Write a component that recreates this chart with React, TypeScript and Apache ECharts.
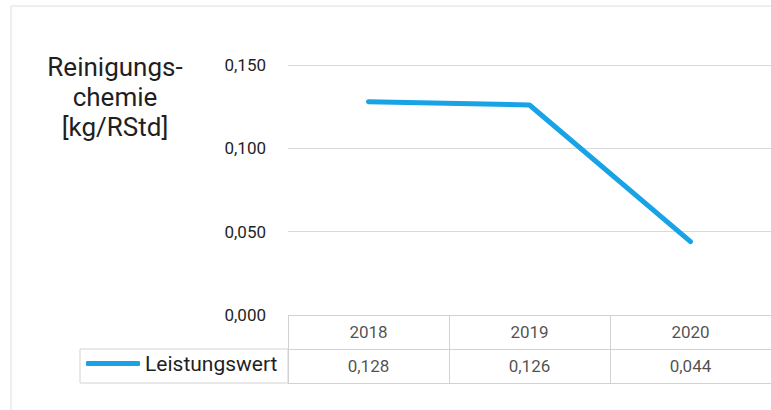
import React, { useEffect, useRef } from "react";
import * as echarts from "echarts";

const years = ["2018", "2019", "2020"];
const values = [0.128, 0.126, 0.044];
const seriesName = "Leistungswert";
const titleLines = ["Reinigungs-", "chemie", "[kg/RStd]"];
const tableRows = ["years", "values"];

const fmt = (v: number) => v.toFixed(3).replace(".", ",");
const FONT = "Roboto";
const LINE_COLOR = "#17a3e6";
const GRID_COLOR = "#d9d9d9";
const TABLE_COLOR = "#d2d2d2";
const TEXT_COLOR = "#1f1f1f";

export default function App() {
  const ref = useRef<HTMLDivElement>(null);
  useEffect(() => {
    if (!ref.current) return;
    const chart = echarts.init(ref.current, null, { renderer: "svg" });
    const tableData: any[] = [];
    years.forEach((y, i) => {
      tableData.push({ value: [y, "years"], text: y });
      tableData.push({ value: [y, "values"], text: fmt(values[i]) });
    });
    chart.setOption({
      animation: false,
      backgroundColor: "#ffffff",
      textStyle: { fontFamily: FONT },
      legend: {
        data: [{ name: seriesName, icon: "roundRect" }],
        left: 86,
        top: 353,
        padding: 0,
        itemWidth: 54,
        itemHeight: 5,
        textStyle: { fontSize: 21, color: TEXT_COLOR, fontFamily: FONT },
      },
      grid: [
        { left: 288, right: -5, top: 65, bottom: 95, containLabel: false },
        { left: 288, right: -5, top: 315, bottom: 27, containLabel: false },
      ],
      xAxis: [
        {
          type: "category",
          gridIndex: 0,
          data: years,
          boundaryGap: true,
          axisLine: { show: false },
          axisTick: { show: false },
          axisLabel: { show: false },
          splitLine: { show: false },
        },
        {
          type: "category",
          gridIndex: 1,
          data: years,
          boundaryGap: true,
          axisLine: { show: false },
          axisTick: { show: false },
          axisLabel: { show: false },
          splitLine: { show: true, lineStyle: { color: TABLE_COLOR, width: 1 } },
        },
      ],
      yAxis: [
        {
          type: "value",
          gridIndex: 0,
          min: 0,
          max: 0.15,
          interval: 0.05,
          axisLine: { show: false },
          axisTick: { show: false },
          axisLabel: {
            formatter: (v: number) => fmt(v),
            fontSize: 17,
            color: TEXT_COLOR,
            fontFamily: FONT,
            margin: 22,
          },
          splitLine: { lineStyle: { color: GRID_COLOR, width: 1 } },
        },
        {
          type: "category",
          gridIndex: 1,
          data: tableRows,
          inverse: true,
          boundaryGap: true,
          axisLine: { show: false },
          axisTick: { show: false },
          axisLabel: { show: false },
          splitLine: { show: true, lineStyle: { color: TABLE_COLOR, width: 1 } },
        },
      ],
      series: [
        {
          name: seriesName,
          type: "line",
          xAxisIndex: 0,
          yAxisIndex: 0,
          data: values,
          symbol: "none",
          color: LINE_COLOR,
          lineStyle: { width: 5, color: LINE_COLOR, cap: "round", join: "round" },
        },
        {
          name: "table",
          type: "scatter",
          xAxisIndex: 1,
          yAxisIndex: 1,
          symbolSize: 0,
          silent: true,
          data: tableData,
          label: {
            show: true,
            position: "inside",
            formatter: (p: any) => p.data.text,
            fontSize: 17,
            color: TEXT_COLOR,
            fontFamily: FONT,
          },
        },
      ],
      graphic: [
        {
          type: "rect",
          shape: { x: 11, y: 6, width: 900, height: 500 },
          style: { fill: "none", stroke: "#dedede", lineWidth: 1 },
          silent: true,
        },
        {
          type: "rect",
          shape: { x: 80, y: 349, width: 208, height: 34 },
          style: { fill: "none", stroke: TABLE_COLOR, lineWidth: 1 },
          silent: true,
        },
        {
          type: "text",
          x: 115,
          y: 97,
          style: {
            text: titleLines.join("\n"),
            fontSize: 26,
            fontFamily: FONT,
            fill: TEXT_COLOR,
            align: "center",
            verticalAlign: "middle",
            lineHeight: 30,
          },
          silent: true,
        },
      ],
    });
    return () => chart.dispose();
  }, []);
  return (
    <div
      ref={ref}
      style={{ position: "fixed", left: 0, top: 0, width: 771, height: 410 }}
    />
  );
}
